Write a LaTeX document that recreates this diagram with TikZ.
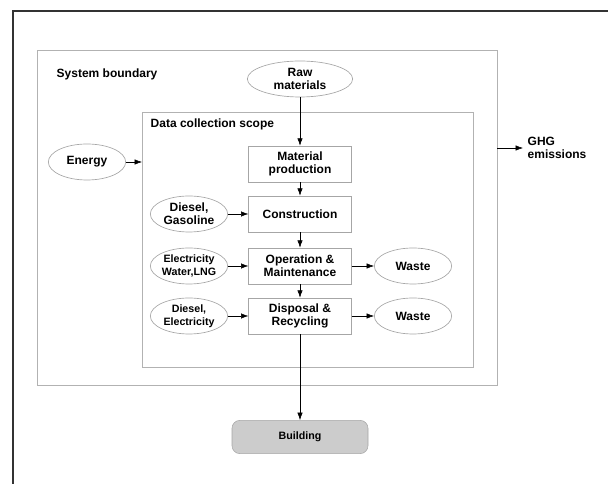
\documentclass[tikz,border=0pt]{standalone}
\usepackage{fontspec}
\setmainfont{Liberation Sans}
\usetikzlibrary{arrows.meta,shapes.geometric,positioning}

\begin{document}
\begin{tikzpicture}[x=0.75pt, y=-0.75pt,
  every node/.style = {align=center, font=\fontsize{9}{10}\selectfont\bfseries},
  stage/.style = {shape=rectangle, draw=gray!70, line width=0.5pt,
    minimum width=77pt, minimum height=27pt, inner sep=1pt},
  input/.style = {shape=ellipse, draw=gray!70, line width=0.5pt,
    minimum width=58pt, minimum height=27pt, inner sep=0pt},
  region/.style = {draw=gray!60, line width=0.5pt},
  flow/.style = {-{Latex[length=5.5pt,width=4pt]}, line width=0.4pt}]
  \useasboundingbox (0,0) rectangle (608,484);
  \draw [line width=1.2pt, black!80] (13,484) -- (13,11) -- (608,11);
  % boundaries
  \draw [region] (37,50) rectangle (497,385);
  \draw [region] (142,112) rectangle (473,367);
  \node [anchor=west] (sysb) at (52,74) {System boundary};
  \node [anchor=west] (scope) at (146,124) {Data collection scope};
  \coordinate (sysright) at (497,148);
  \coordinate (scopeleft) at (142,162);
  % life cycle stages
  \node [input, minimum width=79pt] (raw) at (300,79) {Raw\\materials};
  \node [stage] (mat) at (300,164) {Material\\production};
  \node [stage] (con) at (300,214) {Construction};
  \node [stage] (op) at (300,266) {Operation \&\\Maintenance};
  \node [stage] (dis) at (300,316) {Disposal \&\\Recycling};
  \node [input] (energy) at (87,162) {Energy};
  \node [input] (fuel) at (189,214) {Diesel,\\Gasoline};
  \node [input, font=\fontsize{8}{9.5}\selectfont\bfseries] (util) at (189,266) {Electricity\\Water,LNG};
  \node [input, font=\fontsize{8}{9.5}\selectfont\bfseries] (power) at (189,316) {Diesel,\\Electricity};
  \node [input] (waste1) at (413,266) {Waste};
  \node [input] (waste2) at (413,316) {Waste};
  \node [anchor=west, align=left] (ghg) at (523,148) {GHG\\emissions};
  \node [shape=rectangle, rounded corners=6pt, draw=gray!70, fill=gray!40,
    minimum width=102pt, minimum height=25pt,
    font=\fontsize{8}{9.5}\selectfont\bfseries] (bldg) at (300,437) {Building};
  % flows
  \draw [flow] (raw) -- (mat);
  \draw [flow] (mat) -- (con);
  \draw [flow] (con) -- (op);
  \draw [flow] (op) -- (dis);
  \draw [flow] (dis) -- (bldg);
  \draw [flow] (energy) -- (scopeleft);
  \draw [flow] (fuel) -- (con);
  \draw [flow] (util) -- (op);
  \draw [flow] (power) -- (dis);
  \draw [flow] (op) -- (waste1);
  \draw [flow] (dis) -- (waste2);
  \draw [flow] (sysright) -- (ghg);
\end{tikzpicture}
\end{document}
